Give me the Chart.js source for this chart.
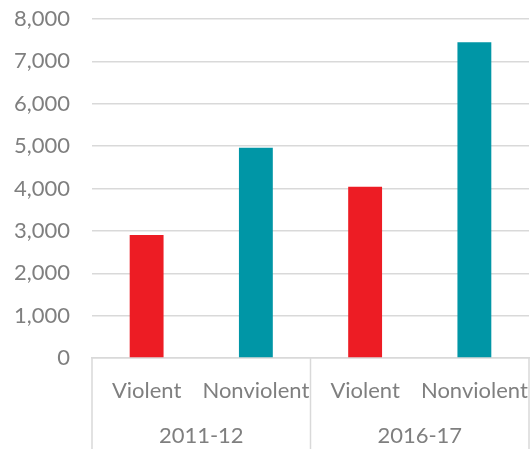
<!DOCTYPE html>
<html>
<head>
<meta charset="utf-8">
<script src="https://cdn.jsdelivr.net/npm/chart.js@4"></script>
<style>
  html, body { margin: 0; padding: 0; background: #fff; }
  #wrap { width: 532px; height: 449px; }
</style>
</head>
<body>
<div id="wrap"><canvas id="chart" width="532" height="449"></canvas></div>
<script>
const categories = ['Violent', 'Nonviolent', 'Violent', 'Nonviolent'];
const groups = ['2011-12', '2016-17'];
const values = [2900, 4960, 4040, 7450];
const barColors = ['#ED1C24', '#0096A6', '#ED1C24', '#0096A6'];

const gridColor = '#d9d9d9';
const textColor = '#7f7f7f';
const fontFamily = 'Lato, "Open Sans", sans-serif';
const fontSize = 22;

const ctx = document.getElementById('chart').getContext('2d');
const chart = new Chart(ctx, {
    type: 'bar',
    data: {
        labels: categories,
        datasets: [{
            data: values,
            backgroundColor: barColors,
            borderWidth: 0,
            barPercentage: 0.62,
            categoryPercentage: 0.5
        }]
    },
    options: {
        responsive: false,
        animation: false,
        layout: { padding: { top: 19, right: 3, left: 0, bottom: 0 } },
        plugins: {
            legend: { display: false },
            tooltip: { enabled: false }
        },
        scales: {
            y: {
                min: 0,
                max: 8000,
                ticks: {
                    stepSize: 1000,
                    padding: 22,
                    color: textColor,
                    font: { family: fontFamily, size: fontSize },
                    callback: v => v.toLocaleString('en-US')
                },
                grid: { color: gridColor, lineWidth: 1.5, drawTicks: false },
                border: { display: false },
                afterFit: s => {
                    s.width = 92;
                    s.paddingTop = 0;
                    s.paddingBottom = 0;
                }
            },
            x: {
                position: 'bottom',
                ticks: {
                    padding: 12,
                    color: textColor,
                    font: { family: fontFamily, size: fontSize },
                    maxRotation: 0,
                    autoSkip: false
                },
                grid: { display: false },
                border: { display: true, color: gridColor, width: 1.5 },
                afterFit: s => {
                    s.height = 56;
                    s.paddingLeft = 0;
                    s.paddingRight = 0;
                }
            },
            x2: {
                type: 'category',
                position: 'bottom',
                labels: groups,
                offset: true,
                ticks: {
                    padding: 1,
                    color: textColor,
                    font: { family: fontFamily, size: fontSize },
                    maxRotation: 0
                },
                grid: { display: false },
                border: { display: false },
                afterFit: s => {
                    s.height = 35;
                    s.paddingLeft = 0;
                    s.paddingRight = 0;
                }
            }
        }
    },
    plugins: [{
        // vertical group dividers running from the axis line down to the bottom edge
        id: 'groupLines',
        afterDraw(c) {
            const x2 = c.scales.x2;
            const g = c.ctx;
            const top = c.chartArea.bottom;
            const bottom = c.height;
            const half = (x2.getPixelForValue(1) - x2.getPixelForValue(0)) / 2;
            const xs = [x2.getPixelForValue(0) - half, x2.getPixelForValue(0) + half, x2.getPixelForValue(1) + half];
            g.save();
            g.strokeStyle = gridColor;
            g.lineWidth = 1.5;
            xs.forEach(x => {
                g.beginPath();
                g.moveTo(x, top);
                g.lineTo(x, bottom);
                g.stroke();
            });
            g.restore();
        }
    }]
});
</script>
</body>
</html>
